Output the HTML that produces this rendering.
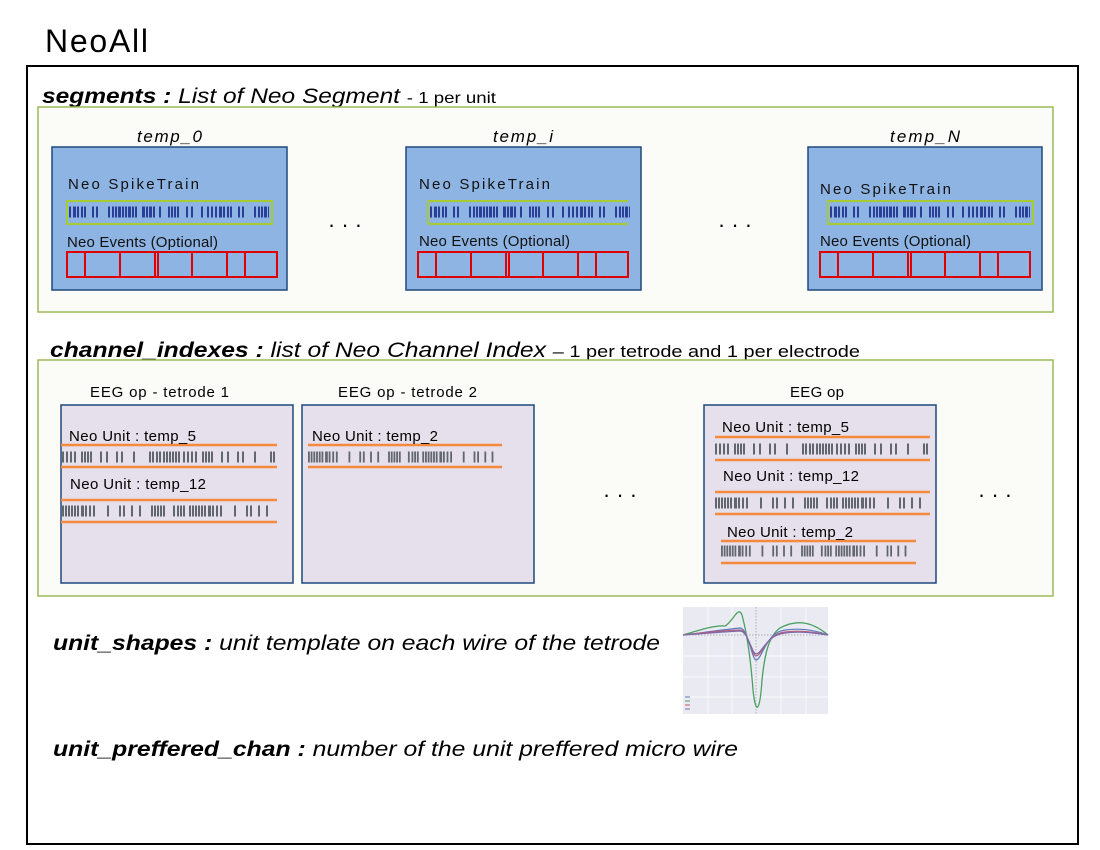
<!DOCTYPE html>
<html><head><meta charset="utf-8"><style>
html,body{margin:0;padding:0;background:#fff}
svg{display:block}
text{font-family:"Liberation Sans",sans-serif}
</style></head><body>
<svg width="1100" height="850" viewBox="0 0 1100 850" xmlns="http://www.w3.org/2000/svg">
<defs>
<g id="blue">
 <line x1="0" y1="0" x2="200" y2="0" stroke="#1a2a8c" stroke-width="11" stroke-dasharray="2 2 3 1 2 2 2 1 2 6 2 2 2 10 2 2 2 1 2 1 3 1 2 1 2 1 3 1 2 1 2 5 3 1 2 1 3 1 2 4 2 7 2 1 2 1 2 1 2 7 2 3 2 8 2 4 2 2 2 2" opacity="0.85"/>
</g>
<g id="tick">
 <line x1="0" y1="0" x2="215" y2="0" stroke="#404850" stroke-width="11" stroke-dasharray="2 2 2 2 2 2 2 5 2 1 2 1 2 1 2 8 2 4 2 8 2 3 2 10 2 14 2 1 2 2 2 1 2 2 2 1 2 1 2 1 2 1 2 1 2 3" opacity="0.8"/>
</g>
<g id="tick2">
 <line x1="0" y1="0" x2="215" y2="0" stroke="#404850" stroke-width="11" stroke-dasharray="2 1 2 1 2 1 2 1 2 1 2 2 3 1 2 2 2 2 2 12 2 10 2 2 2 6 2 6 2 10 2 1 2 1 2 1 2 1 2 8 2 2 2 1 2 1 2 4" opacity="0.8"/>
</g>
<g id="ev">
 <rect x="0" y="0" width="210" height="25" fill="none" stroke="#e00000" stroke-width="2"/>
 <path d="M18 0V25M53 0V25M88 0V25M91 0V25M125 0V25M160 0V25M178 0V25" stroke="#e00000" stroke-width="2"/>
</g>
</defs>

<text x="45" y="52" font-size="32" fill="#000" textLength="103">NeoAll</text>
<rect x="27" y="66" width="1051" height="778" fill="#fff" stroke="#000" stroke-width="2"/>

<text x="42" y="103" font-size="21" font-style="italic" textLength="454" lengthAdjust="spacingAndGlyphs"><tspan font-weight="bold">segments : </tspan>List of Neo Segment <tspan font-style="normal" font-size="16">- 1 per unit</tspan></text>
<rect x="38" y="107" width="1015" height="205" fill="#fbfbf7" stroke="#9bbb59" stroke-width="1.5"/>

<text x="137" y="142" font-size="17" font-style="italic" textLength="65">temp_0</text>
<rect x="52" y="147" width="235" height="143" fill="#8eb4e3" stroke="#1f497d" stroke-width="1.5"/>
<text x="68" y="189" font-size="15" fill="#111" textLength="131">Neo SpikeTrain</text>
<rect x="67" y="201" width="205" height="23" fill="none" stroke="#a8cc30" stroke-width="2"/>
<use href="#blue" x="69" y="212"/>
<text x="67" y="247" font-size="15" fill="#111" textLength="151">Neo Events (Optional)</text>
<use href="#ev" x="67" y="252"/>

<text x="493" y="142" font-size="17" font-style="italic" textLength="60">temp_i</text>
<rect x="406" y="147" width="235" height="143" fill="#8eb4e3" stroke="#1f497d" stroke-width="1.5"/>
<text x="419" y="189" font-size="15" fill="#111" textLength="131">Neo SpikeTrain</text>
<path d="M428 201H628M428 224H628M428 201V224" stroke="#a8cc30" stroke-width="2" fill="none"/>
<use href="#blue" x="430" y="212"/>
<text x="419" y="246" font-size="15" fill="#111" textLength="151">Neo Events (Optional)</text>
<use href="#ev" x="418" y="252"/>

<text x="890" y="142" font-size="17" font-style="italic" textLength="70">temp_N</text>
<rect x="808" y="147" width="234" height="143" fill="#8eb4e3" stroke="#1f497d" stroke-width="1.5"/>
<text x="820" y="194" font-size="15" fill="#111" textLength="131">Neo SpikeTrain</text>
<rect x="828" y="201" width="205" height="23" fill="none" stroke="#a8cc30" stroke-width="2"/>
<use href="#blue" x="830" y="212"/>
<text x="820" y="246" font-size="15" fill="#111" textLength="151">Neo Events (Optional)</text>
<use href="#ev" x="820" y="252"/>

<text x="345" y="232" font-size="22" text-anchor="middle">· · ·</text>
<text x="735" y="232" font-size="22" text-anchor="middle">· · ·</text>

<text x="50" y="357" font-size="21" font-style="italic" textLength="810" lengthAdjust="spacingAndGlyphs"><tspan font-weight="bold">channel_indexes  : </tspan>list of Neo Channel Index <tspan font-style="normal" font-size="17">– 1 per tetrode and 1 per electrode</tspan></text>
<rect x="38" y="360" width="1015" height="236" fill="#fbfbf7" stroke="#9bbb59" stroke-width="1.5"/>

<text x="90" y="397" font-size="15" textLength="139">EEG op - tetrode 1</text>
<text x="338" y="397" font-size="15" textLength="139">EEG op - tetrode 2</text>
<text x="790" y="397" font-size="15" textLength="54">EEG op</text>

<rect x="61" y="405" width="232" height="178" fill="#e6e0ec" stroke="#1f497d" stroke-width="1.5"/>
<rect x="302" y="405" width="232" height="178" fill="#e6e0ec" stroke="#1f497d" stroke-width="1.5"/>
<rect x="704" y="405" width="232" height="178" fill="#e6e0ec" stroke="#1f497d" stroke-width="1.5"/>

<g stroke="#f58a3c" stroke-width="2.5">
<path d="M61 445H277M61 467H277M61 500H277M61 522H277"/>
<path d="M308 445H502M308 467H502"/>
<path d="M715 437H930M715 460H930M715 492H930M715 514H930M721 541H916M721 563H916"/>
</g>
<text x="69" y="441" font-size="15" textLength="127">Neo Unit : temp_5</text>
<use href="#tick" x="62" y="457"/>
<text x="70" y="489" font-size="15" textLength="136">Neo Unit : temp_12</text>
<use href="#tick2" x="62" y="511"/>
<text x="312" y="441" font-size="15" textLength="126">Neo Unit : temp_2</text>
<g transform="translate(308,457) scale(0.9,1)"><use href="#tick2"/></g>
<text x="722" y="432" font-size="15" textLength="127">Neo Unit : temp_5</text>
<use href="#tick" x="715" y="449"/>
<text x="723" y="481" font-size="15" textLength="136">Neo Unit : temp_12</text>
<use href="#tick2" x="715" y="503"/>
<text x="727" y="537" font-size="15" textLength="126">Neo Unit : temp_2</text>
<g transform="translate(721,551) scale(0.9,1)"><use href="#tick2"/></g>

<text x="620" y="502" font-size="22" text-anchor="middle">· · ·</text>
<text x="995" y="502" font-size="22" text-anchor="middle">· · ·</text>

<text x="53" y="650" font-size="21" font-style="italic" textLength="607" lengthAdjust="spacingAndGlyphs"><tspan font-weight="bold">unit_shapes : </tspan>unit template on each wire of the tetrode</text>

<rect x="683" y="607" width="145" height="107" fill="#eaeaf2"/>
<g stroke="#fff" stroke-width="0.7">
<path d="M708 607V714M732 607V714M781 607V714M806 607V714M683 656H828M683 677H828M683 697H828"/>
</g>
<path d="M756 607V714M683 635H828" stroke="#999" stroke-width="0.7" stroke-dasharray="1.5 1.5"/>
<path d="M683 635 C700 630 715 625 725 626 C733 622 738 605 742 615 C746 630 750 650 753 690 C756 718 760 710 762 680 C765 650 770 635 780 628 C795 620 810 620 828 635" fill="none" stroke="#4aa060" stroke-width="1.3"/>
<path d="M683 635 C700 633 720 630 740 628 C748 628 752 660 756 660 C762 660 766 632 785 630 C800 628 815 630 828 635" fill="none" stroke="#5a7ac0" stroke-width="1.2"/>
<path d="M683 635 C700 633 720 631 740 630 C748 630 752 656 756 656 C762 656 766 634 785 632 C800 630 815 632 828 635" fill="none" stroke="#c05a70" stroke-width="1.2"/>
<path d="M683 635 C700 634 720 632 740 631 C748 631 752 654 756 654 C762 654 766 635 785 633 C800 631 815 633 828 635" fill="none" stroke="#7a6ab0" stroke-width="1.2"/>
<g stroke-width="1"><path d="M685 697h5" stroke="#5a7ac0"/><path d="M685 701h5" stroke="#4aa060"/><path d="M685 705h5" stroke="#c05a70"/><path d="M685 709h5" stroke="#7a6ab0"/></g>

<text x="53" y="756" font-size="21" font-style="italic" textLength="685" lengthAdjust="spacingAndGlyphs"><tspan font-weight="bold">unit_preffered_chan : </tspan>number of the unit preffered micro wire</text>
</svg>
</body></html>
